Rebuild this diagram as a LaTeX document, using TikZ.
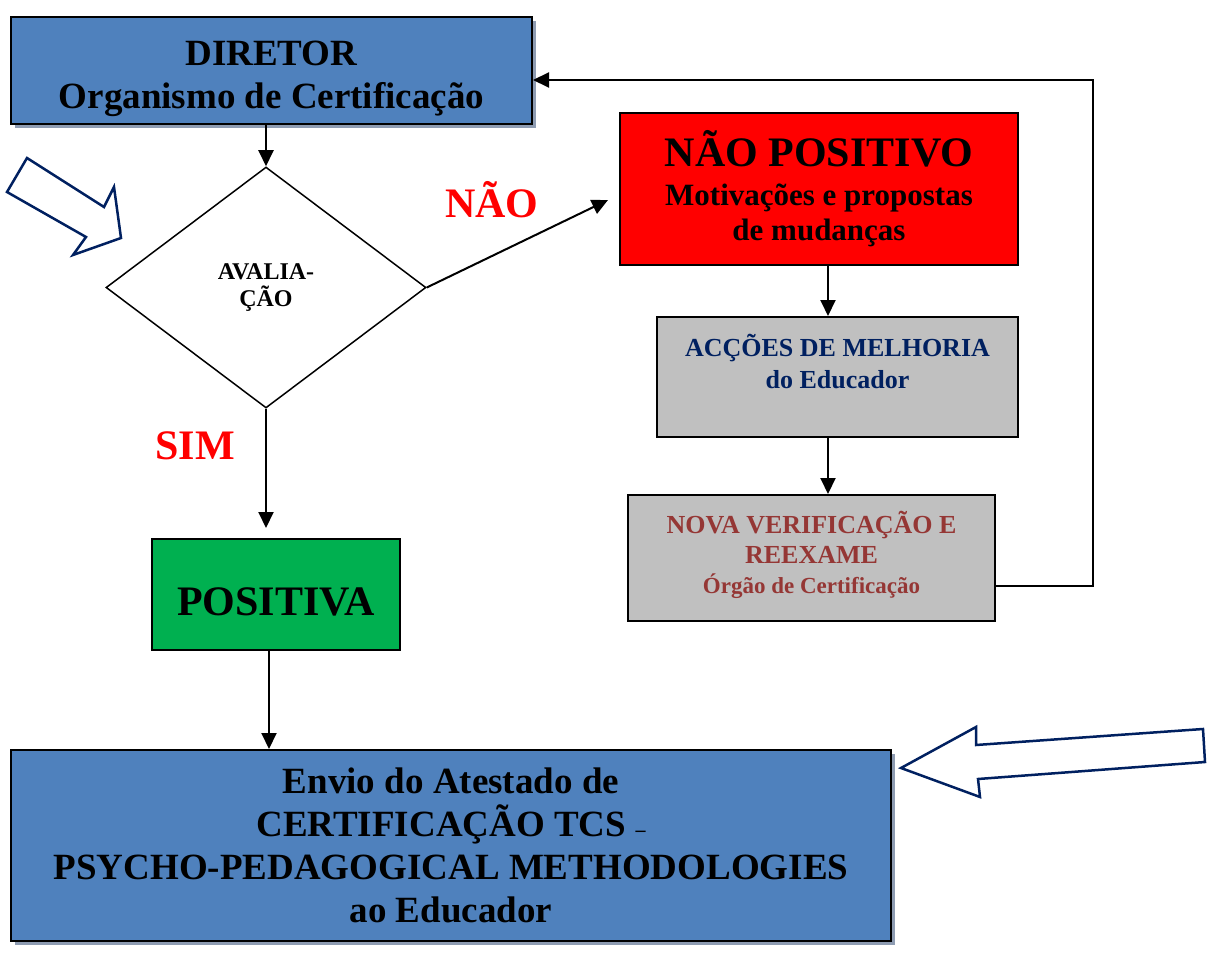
\documentclass[tikz,border=0pt]{standalone}
\usepackage{fontspec}
\setmainfont{Liberation Serif}
\usetikzlibrary{arrows.meta,shapes.geometric,shadows}
\definecolor{boxblue}{RGB}{79,129,189}
\definecolor{shadowc}{RGB}{142,156,178}
\definecolor{nored}{RGB}{255,0,0}
\definecolor{simgreen}{RGB}{0,176,80}
\definecolor{boxgray}{RGB}{192,192,192}
\definecolor{navy}{RGB}{0,32,96}
\definecolor{brownt}{RGB}{149,55,53}
\newcommand{\fs}[2]{\fontsize{#1pt}{#2pt}\selectfont}
\begin{document}
\begin{tikzpicture}[x=1pt, y=-1pt,
    box/.style={draw=black, line width=2pt, inner sep=0pt, align=center},
    bluebox/.style={box, fill=boxblue,
      drop shadow={shadow xshift=4pt, shadow yshift=-4pt, fill=shadowc, opacity=1}},
    decision/.style={diamond, draw=black, line width=1.5pt, inner sep=0pt, align=center},
    conn/.style={line width=2pt, -{Triangle[length=16pt,width=15pt]}},
    answer/.style={text=nored, font=\bfseries\fs{42}{42}},
    blockarr/.style={draw=navy, fill=white, line width=2.5pt, line join=miter}]
  \useasboundingbox (0,0) rectangle (1208,955);
  % boxes
  \node[bluebox, minimum width=521pt, minimum height=107pt, font=\bfseries\fs{37}{43}]
    (dir) at (271.5,70.5) {\rule{0pt}{42pt}DIRETOR\\Organismo de Certificação};
  \node[decision, minimum width=320pt, minimum height=241pt, font=\bfseries\fs{24}{27}]
    (aval) at (266,287.5) {AVALIA-\\ÇÃO};
  \node[box, fill=nored, minimum width=398pt, minimum height=152pt, font=\bfseries\fs{31}{35}]
    (nao) at (819,189) {{\fs{42}{44}NÃO POSITIVO}\\[4pt]Motivações e propostas\\de mudanças};
  \node[box, fill=boxgray, minimum width=361pt, minimum height=120pt, text=navy, font=\bfseries\fs{26}{32}]
    (acc) at (837.5,377) {ACÇÕES DE MELHORIA\\do Educador\\\mbox{}};
  \node[box, fill=boxgray, minimum width=367pt, minimum height=126pt, text=brownt, font=\bfseries\fs{26}{30}]
    (nova) at (811.5,558) {NOVA VERIFICAÇÃO E\\REEXAME\\{\fs{23}{29}Órgão de Certificação\rule[-12pt]{0pt}{0pt}}};
  \node[box, fill=simgreen, minimum width=248pt, minimum height=111pt, font=\bfseries\fs{42}{44},
    text height=41pt, text depth=0pt] (pos) at (276,594.5) {POSITIVA};
  \node[bluebox, minimum width=880pt, minimum height=191pt, font=\bfseries\fs{37}{43}]
    (envio) at (451,845.5) {Envio do Atestado de\\CERTIFICAÇÃO TCS {\fs{20}{20}–}\\PSYCHO-PEDAGOGICAL METHODOLOGIES\\ao Educador};
  % labels
  \node[answer] (naolbl) at (492,200) {NÃO};
  \node[answer] (simlbl) at (195,446) {SIM};
  \coordinate (naotip) at (608,200);
  % connectors
  \draw[conn] (aval.north |- dir.south) -- (aval.north);
  \draw[conn] (aval.east) -- (naotip);
  \draw[conn, shorten >=10pt] (aval.south) -- (aval.south |- pos.north);
  \draw[conn] ([xshift=3pt]aval.south |- pos.south) -- ([xshift=3pt]aval.south |- envio.north);
  \draw[conn] ([xshift=9pt]nao.south) -- ([xshift=9pt]nao.south |- acc.north);
  \draw[conn] ([xshift=-9.5pt]acc.south) -- ([xshift=-9.5pt]acc.south |- nova.north);
  \draw[conn] ([yshift=-28pt]nova.east) -- ++(97,0) |- ([yshift=-9.5pt]dir.east);
  % block arrows
  \draw[blockarr] (27,158) -- (104,207) -- (114,187) -- (121,238) -- (73,255) -- (86,237) -- (7,192) -- cycle;
  \draw[blockarr] (901,768) -- (976,727) -- (976,745) -- (1203,729) -- (1205,762) -- (978,779) -- (980,797) -- cycle;
\end{tikzpicture}
\end{document}
